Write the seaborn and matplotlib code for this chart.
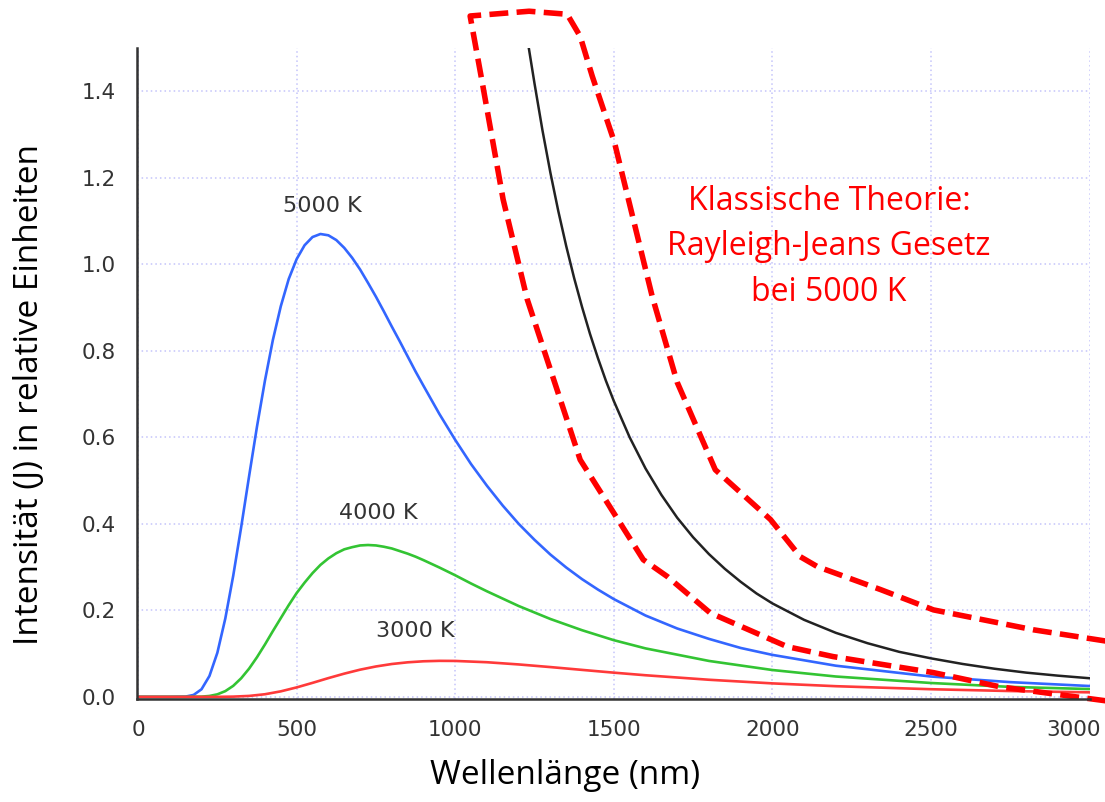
import numpy as np
import pandas as pd
import matplotlib
matplotlib.use("Agg")
import matplotlib.pyplot as plt
from matplotlib.transforms import ScaledTranslation
import seaborn as sns

# ---- data ----
wl_5000 = [0, 100, 150, 175, 200, 225, 250, 275, 300, 325, 350, 375, 400, 425, 450, 475, 500, 525, 550,
           575, 600, 625, 650, 675, 700, 725, 750, 775, 800, 825, 850, 875, 900, 950, 1000, 1050, 1100,
           1150, 1200, 1250, 1300, 1350, 1400, 1450, 1500, 1600, 1700, 1800, 1900, 2000, 2200, 2500,
           2750, 3000]
i_5000 = [0, 0, 0.0006, 0.0044, 0.0175, 0.0482, 0.102, 0.181, 0.280, 0.392, 0.510, 0.625, 0.731, 0.825,
          0.903, 0.966, 1.012, 1.044, 1.063, 1.070, 1.067, 1.056, 1.038, 1.015, 0.988, 0.957, 0.925,
          0.891, 0.856, 0.822, 0.787, 0.752, 0.719, 0.654, 0.594, 0.538, 0.488, 0.442, 0.400, 0.363,
          0.329, 0.299, 0.272, 0.248, 0.226, 0.188, 0.158, 0.134, 0.113, 0.097, 0.072, 0.047, 0.034,
          0.025]
wl_4000 = [0, 150, 200, 225, 250, 275, 300, 325, 350, 375, 400, 425, 450, 475, 500, 525, 550, 575, 600,
           625, 650, 675, 700, 725, 750, 775, 800, 825, 850, 875, 900, 950, 1000, 1050, 1100, 1150, 1200,
           1300, 1400, 1500, 1600, 1800, 2000, 2200, 2500, 2750, 3000]
i_4000 = [0, 0, 0.0005, 0.0020, 0.0058, 0.0132, 0.0254, 0.0429, 0.0652, 0.0917, 0.121, 0.152, 0.182,
          0.212, 0.240, 0.264, 0.286, 0.305, 0.320, 0.332, 0.341, 0.346, 0.350, 0.351, 0.350, 0.347,
          0.343, 0.337, 0.331, 0.324, 0.316, 0.299, 0.281, 0.262, 0.244, 0.227, 0.210, 0.180, 0.154,
          0.131, 0.112, 0.083, 0.062, 0.047, 0.032, 0.023, 0.018]
wl_3000 = [0, 100, 150, 200, 250, 300, 350, 400, 450, 500, 550, 600, 650, 700, 750, 800, 850, 900, 950,
           1000, 1100, 1200, 1300, 1400, 1500, 1600, 1800, 2000, 2200, 2500, 2750, 3000]
i_3000 = [0.0, 0.0, 0.0, 0.0, 0.0, 0.0005, 0.0021, 0.0060, 0.0127, 0.0218, 0.0323, 0.0433, 0.0536, 0.0628,
          0.0702, 0.0759, 0.0798, 0.0822, 0.0832, 0.0830, 0.0800, 0.0749, 0.0688, 0.0623, 0.0559, 0.0499,
          0.0395, 0.0311, 0.0246, 0.0176, 0.0134, 0.0104]
rj_wl = [1232, 1250, 1275, 1300, 1325, 1350, 1375, 1400, 1425, 1450, 1475, 1500, 1550, 1600, 1650, 1700,
         1750, 1800, 1850, 1900, 1950, 2000, 2100, 2200, 2300, 2400, 2500, 2600, 2700, 2800, 2900, 3000]
rj_val = [1.50, 1.418, 1.310, 1.212, 1.123, 1.042, 0.968, 0.901, 0.839, 0.783, 0.731, 0.684, 0.600, 0.528,
          0.467, 0.414, 0.369, 0.330, 0.296, 0.266, 0.239, 0.216, 0.178, 0.148, 0.124, 0.104, 0.089,
          0.076, 0.065, 0.056, 0.049, 0.043]

# red dashed outline (annotation), in data units
outline_x = [3060, 2719, 2508, 2192, 2047, 1804, 1669, 1593, 1394, 1227, 1151, 1085, 1047,
             1233, 1353, 1394, 1432, 1502, 1621, 1700, 1820, 1994, 2088, 2142, 2341, 2508, 2823, 3060]
outline_y = [-0.010, 0.023, 0.056, 0.093, 0.116, 0.194, 0.278, 0.317, 0.548, 0.919, 1.150, 1.421, 1.574,
             1.585, 1.578, 1.527, 1.435, 1.282, 0.926, 0.727, 0.525, 0.410, 0.324, 0.301, 0.248, 0.201,
             0.155, 0.128]

curve_labels = ["5000 K", "4000 K", "3000 K"]
label_x = [580, 757, 874]
label_y = [1.134, 0.424, 0.153]
xticks = [0, 500, 1000, 1500, 2000, 2500, 3000]
yticks = [0.0, 0.2, 0.4, 0.6, 0.8, 1.0, 1.2, 1.4]
xlabel = "Wellenlänge (nm)"
ylabel = "Intensität (J) in relative Einheiten"
note = "Klassische Theorie:\nRayleigh-Jeans Gesetz\nbei 5000 K"

colors = {"5000 K": "#3366ff", "4000 K": "#33c433", "3000 K": "#ff3a3a"}

df = pd.concat([
    pd.DataFrame({"wl": wl_5000, "I": i_5000, "T": "5000 K"}),
    pd.DataFrame({"wl": wl_4000, "I": i_4000, "T": "4000 K"}),
    pd.DataFrame({"wl": wl_3000, "I": i_3000, "T": "3000 K"}),
], ignore_index=True)
df_rj = pd.DataFrame({"wl": rj_wl, "I": rj_val})

sns.set_style("white")
plt.rcParams["font.family"] = ["DejaVu Sans"]

fig = plt.figure(figsize=(11.05, 8.02), dpi=100)
ax = fig.add_axes([136.5 / 1105, 103 / 802, 953 / 1105, 651 / 802])

ax.grid(True, color="#c4c4fa", linestyle=(0, (1, 2)), linewidth=1.1)
ax.set_axisbelow(True)

sns.lineplot(data=df_rj, x="wl", y="I", color="#222222", linewidth=1.8, ax=ax,
             estimator=None, sort=False)
sns.lineplot(data=df, x="wl", y="I", hue="T", palette=colors, hue_order=["5000 K", "4000 K", "3000 K"],
             linewidth=1.9, ax=ax, estimator=None, sort=False, legend=False)

ax.set_xlim(-5, 3000)
ax.set_ylim(-0.005, 1.5)
ax.set_xticks(xticks)
ax.set_yticks(yticks)
ax.set_yticklabels([f"{v:.1f}" for v in yticks])
ax.tick_params(direction="out", length=8, width=1.6, color="#333333", labelsize=15.5,
               labelcolor="#333333", pad=7)
for s in ["top", "right"]:
    ax.spines[s].set_visible(False)
for s in ["left", "bottom"]:
    ax.spines[s].set_color("#333333")
    ax.spines[s].set_linewidth(1.8)

# last x tick label sits a bit left, as in the reference
last = ax.get_xticklabels()[-1]
last.set_transform(last.get_transform() + ScaledTranslation(-0.16, 0, fig.dpi_scale_trans))

for lab, x, y in zip(curve_labels, label_x, label_y):
    ax.text(x, y, lab, ha="center", va="center", fontsize=16, color="#333333")

ax.plot(outline_x, outline_y, color="#ff0000", linewidth=4.0, linestyle=(0, (3.4, 1.5)),
        clip_on=False, dash_capstyle="butt")

ax.text(2179, 1.04, note, ha="center", va="center", fontsize=23, color="#ff0000",
        family=["Open Sans", "DejaVu Sans"], linespacing=1.5)

ax.set_xlabel(xlabel, fontsize=24, family=["Open Sans", "DejaVu Sans"], color="black")
ax.set_ylabel(ylabel, fontsize=24, family=["Open Sans", "DejaVu Sans"], color="black")
ax.xaxis.set_label_coords(0.45, -0.092)
ax.yaxis.set_label_coords(-0.095, 0.467)

fig.savefig("out.png", dpi=100)
